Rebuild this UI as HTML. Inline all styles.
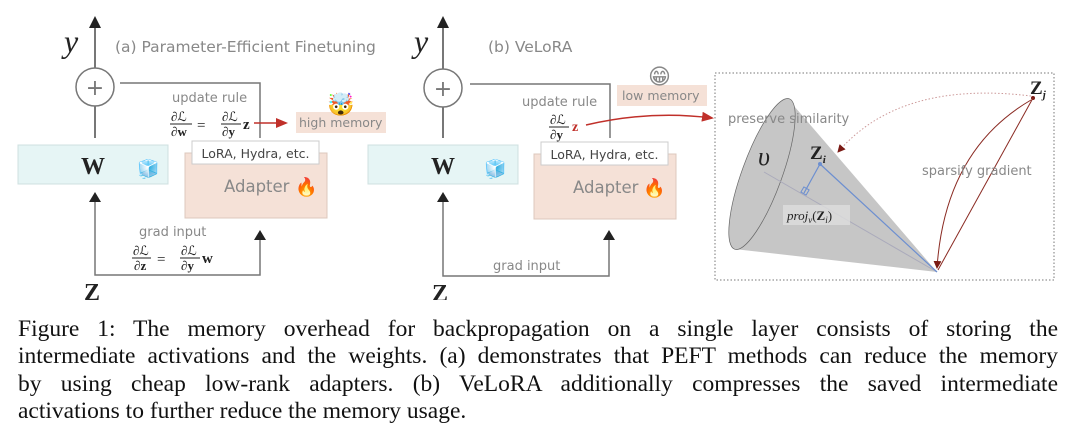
<!DOCTYPE html>
<html><head><meta charset="utf-8"><style>
body{margin:0;width:1080px;height:441px;background:#fff;overflow:hidden;position:relative;font-family:"DejaVu Sans",sans-serif}
svg{position:absolute;left:0;top:0}
.cap{position:absolute;left:18px;width:1040px;font-family:"Liberation Serif",serif;font-size:23.5px;color:#111;white-space:nowrap}
.j{text-align:justify;text-align-last:justify;white-space:normal}
</style></head><body>
<svg width="1080" height="300" viewBox="0 0 1080 300">
<defs>
<marker id="ar" markerWidth="12" markerHeight="10" refX="10" refY="5" orient="auto" markerUnits="userSpaceOnUse"><path d="M0,0 L12,5 L0,10 z" fill="#c0302a"/></marker>
<marker id="ad" markerWidth="8" markerHeight="8" refX="7" refY="4" orient="auto" markerUnits="userSpaceOnUse"><path d="M0,0 L8,4 L0,8 z" fill="#7a1a14"/></marker>
</defs>
<g font-family="DejaVu Sans,sans-serif" fill="#888" stroke="none">
<!-- panel a -->
<line x1="95" y1="138" x2="95" y2="26" stroke="#777" stroke-width="2"/>
<path d="M89,28 L95,16 L101,28z" fill="#222"/>
<circle cx="95" cy="87" r="19" fill="#fff" stroke="#777" stroke-width="1.5"/>
<text x="95" y="95" font-size="22" text-anchor="middle" fill="#777">+</text>
<text x="64" y="52" font-family="Liberation Serif,serif" font-style="italic" font-size="32" fill="#222">y</text>
<text x="115" y="52" font-size="15.5">(a) Parameter-Efficient Finetuning</text>
<polyline points="120,83 260,83 260,138" fill="none" stroke="#777" stroke-width="1.5"/>
<rect x="18" y="145" width="150" height="39" fill="#e6f5f5" stroke="#cfe0e0"/>
<text x="93" y="174" font-family="Liberation Serif,serif" font-weight="bold" font-size="24" fill="#222" text-anchor="middle">W</text>
<text x="137" y="175" font-size="18">🧊</text>
<rect x="185" y="153" width="142" height="65" fill="#f5e1d7" stroke="#ddc8bd"/>
<rect x="192" y="141" width="127" height="23" fill="#fff" stroke="#ccc"/>
<text x="255.5" y="158" font-size="12.5" fill="#444" text-anchor="middle">LoRA, Hydra, etc.</text>
<text x="224" y="192" font-size="16.5">Adapter</text>
<text x="295" y="193" font-size="18">🔥</text>
<text x="172" y="102" font-size="13">update rule</text>
<g font-family="Liberation Serif,serif" fill="#222" font-size="13">
<text x="171" y="121">∂ℒ</text><line x1="170" y1="124" x2="192" y2="124" stroke="#222"/><text x="171" y="136">∂<tspan font-weight="bold">w</tspan></text>
<text x="197" y="130" font-size="15">=</text>
<text x="222" y="121">∂ℒ</text><line x1="221" y1="124" x2="241" y2="124" stroke="#222"/><text x="222" y="136">∂<tspan font-weight="bold">y</tspan></text>
<text x="243" y="129" font-weight="bold" font-size="15">z</text>
</g>
<line x1="254" y1="123" x2="286" y2="123" stroke="#c0302a" stroke-width="1.5" marker-end="url(#ar)"/>
<rect x="296" y="112" width="90" height="21" fill="#f5e1d7"/>
<text x="299" y="127" font-size="12.5">high memory</text>
<text x="327" y="112" font-size="22">🤯</text>
<text x="139" y="236" font-size="13">grad input</text>
<g font-family="Liberation Serif,serif" fill="#222" font-size="13">
<text x="133" y="255">∂ℒ</text><line x1="132" y1="258" x2="151" y2="258" stroke="#222"/><text x="134" y="270">∂<tspan font-weight="bold">z</tspan></text>
<text x="157" y="264" font-size="15">=</text>
<text x="181" y="255">∂ℒ</text><line x1="180" y1="258" x2="200" y2="258" stroke="#222"/><text x="181" y="270">∂<tspan font-weight="bold">y</tspan></text>
<text x="202" y="263" font-weight="bold" font-size="15">w</text>
</g>
<polyline points="95,200 95,275 260,275 260,238" fill="none" stroke="#777" stroke-width="1.5"/>
<path d="M89,202 L95,192 L101,202z" fill="#222"/>
<path d="M254,240 L260,230 L266,240z" fill="#222"/>
<text x="84" y="300" font-family="Liberation Serif,serif" font-weight="bold" font-size="24" fill="#222">Z</text>

<!-- panel b -->
<line x1="443" y1="138" x2="443" y2="26" stroke="#777" stroke-width="2"/>
<path d="M437,28 L443,16 L449,28z" fill="#222"/>
<circle cx="443" cy="88" r="19" fill="#fff" stroke="#777" stroke-width="1.5"/>
<text x="443" y="96" font-size="22" text-anchor="middle" fill="#777">+</text>
<text x="414" y="52" font-family="Liberation Serif,serif" font-style="italic" font-size="32" fill="#222">y</text>
<text x="488" y="52" font-size="15.5">(b) VeLoRA</text>
<polyline points="470,84 610,84 610,138" fill="none" stroke="#777" stroke-width="1.5"/>
<rect x="368" y="145" width="150" height="39" fill="#e6f5f5" stroke="#cfe0e0"/>
<text x="443" y="174" font-family="Liberation Serif,serif" font-weight="bold" font-size="24" fill="#222" text-anchor="middle">W</text>
<text x="484" y="175" font-size="18">🧊</text>
<rect x="534" y="154" width="142" height="65" fill="#f5e1d7" stroke="#ddc8bd"/>
<rect x="541" y="142" width="127" height="23" fill="#fff" stroke="#ccc"/>
<text x="604.5" y="159" font-size="12.5" fill="#444" text-anchor="middle">LoRA, Hydra, etc.</text>
<text x="573" y="193" font-size="16.5">Adapter</text>
<text x="643" y="194" font-size="18">🔥</text>
<text x="522" y="106" font-size="13">update rule</text>
<g font-family="Liberation Serif,serif" fill="#222" font-size="13">
<text x="550" y="124">∂ℒ</text><line x1="549" y1="127" x2="569" y2="127" stroke="#222"/><text x="550" y="139">∂<tspan font-weight="bold">y</tspan></text>
<text x="572" y="131" font-weight="bold" font-size="14" fill="#c0302a">z</text>
</g>
<path d="M586,125 Q650,110 712,118" fill="none" stroke="#c0302a" stroke-width="1.5" marker-end="url(#ar)"/>
<rect x="617" y="85" width="90" height="21" fill="#f5e1d7"/>
<text x="622" y="100" font-size="12.5">low memory</text>
<text x="648" y="84" font-size="22">😁</text>
<text x="493" y="270" font-size="13">grad input</text>
<polyline points="443,200 443,276 609,276 609,238" fill="none" stroke="#777" stroke-width="1.5"/>
<path d="M437,202 L443,192 L449,202z" fill="#222"/>
<path d="M603,240 L609,230 L615,240z" fill="#222"/>
<text x="432" y="301" font-family="Liberation Serif,serif" font-weight="bold" font-size="24" fill="#222">Z</text>

<!-- panel c -->
<rect x="715" y="73" width="339" height="207" fill="none" stroke="#777" stroke-dasharray="1.5,2"/>
<ellipse cx="762" cy="174" rx="20" ry="80" transform="rotate(20 762 174)" fill="#c6c6c6"/>
<path d="M788,99 L937,272 L734,249z" fill="#c6c6c6"/>
<ellipse cx="762" cy="174" rx="20" ry="80" transform="rotate(20 762 174)" fill="none" stroke="#666" stroke-width="0.7" stroke-dasharray="400 0"/>
<line x1="764" y1="172" x2="937" y2="272" stroke="#aab" stroke-width="1"/>
<line x1="820" y1="164" x2="937" y2="272" stroke="#6c8fd0" stroke-width="1.2"/>
<line x1="820" y1="164" x2="804" y2="193" stroke="#6c8fd0" stroke-width="1.2"/>
<rect x="802" y="188" width="6" height="6" fill="none" stroke="#6c8fd0" transform="rotate(30 805 191)"/>
<circle cx="820" cy="164" r="2" fill="#6c8fd0"/>
<rect x="783" y="205" width="67" height="20" fill="#ddd" opacity="0.8"/>
<text x="787" y="220" font-family="Liberation Serif,serif" font-style="italic" font-size="13" fill="#222">proj<tspan font-size="9" dy="3">v</tspan><tspan dy="-3" font-style="normal">(</tspan><tspan font-weight="bold" font-style="normal">Z</tspan><tspan font-size="9" dy="3">i</tspan><tspan dy="-3" font-style="normal">)</tspan></text>
<text x="758" y="165" font-family="Liberation Serif,serif" font-style="italic" font-size="26" fill="#222">υ</text>
<text x="810" y="159" font-family="Liberation Serif,serif" font-weight="bold" font-size="19" fill="#222">Z<tspan font-size="11" font-style="italic" dy="4">i</tspan></text>
<text x="1030" y="94" font-family="Liberation Serif,serif" font-weight="bold" font-size="19" fill="#222">Z<tspan font-size="11" font-style="italic" dy="4">j</tspan></text>
<circle cx="1033" cy="98" r="2" fill="#7a1a14"/>
<path d="M1031,96 Q900,80 838,152" fill="none" stroke="#c99" stroke-width="1" stroke-dasharray="1.5,2" marker-end="url(#ad)"/>
<line x1="1033" y1="98" x2="938" y2="270" stroke="#8a2a22" stroke-width="1"/>
<path d="M1031,100 Q945,150 937,268" fill="none" stroke="#8a2a22" stroke-width="1" marker-end="url(#ad)"/>
<text x="728" y="123" font-size="13">preserve similarity</text>
<text x="922" y="175" font-size="13">sparsify gradient</text>
</g>
</svg>
<div class="cap j" style="top:316px">Figure 1: The memory overhead for backpropagation on a single layer consists of storing the</div>
<div class="cap j" style="top:343px">intermediate activations and the weights. (a) demonstrates that PEFT methods can reduce the memory</div>
<div class="cap j" style="top:371px">by using cheap low-rank adapters. (b) VeLoRA additionally compresses the saved intermediate</div>
<div class="cap" style="top:398px">activations to further reduce the memory usage.</div>
</body></html>
